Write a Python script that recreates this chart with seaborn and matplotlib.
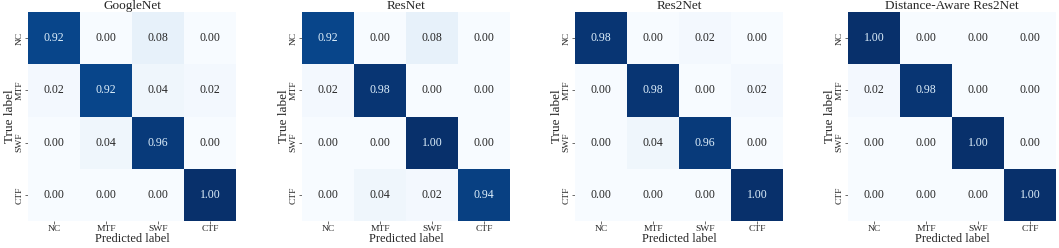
import numpy as np
import pandas as pd
import matplotlib
matplotlib.use("Agg")
import matplotlib.pyplot as plt
import seaborn as sns

classes = ["NC", "MTF", "SWF", "CTF"]
titles = ["GoogleNet", "ResNet", "Res2Net", "Distance-Aware Res2Net"]

googlenet = [[0.92, 0.00, 0.08, 0.00],
             [0.02, 0.92, 0.04, 0.02],
             [0.00, 0.04, 0.96, 0.00],
             [0.00, 0.00, 0.00, 1.00]]
resnet = [[0.92, 0.00, 0.08, 0.00],
          [0.02, 0.98, 0.00, 0.00],
          [0.00, 0.00, 1.00, 0.00],
          [0.00, 0.04, 0.02, 0.94]]
res2net = [[0.98, 0.00, 0.02, 0.00],
           [0.00, 0.98, 0.00, 0.02],
           [0.00, 0.04, 0.96, 0.00],
           [0.00, 0.00, 0.00, 1.00]]
da_res2net = [[1.00, 0.00, 0.00, 0.00],
              [0.02, 0.98, 0.00, 0.00],
              [0.00, 0.00, 1.00, 0.00],
              [0.00, 0.00, 0.00, 1.00]]
matrices = [googlenet, resnet, res2net, da_res2net]

sns.set_theme(style="white")
plt.rcParams['font.family'] = ['Liberation Serif', 'DejaVu Serif']

W, H = 1059, 248
fig = plt.figure(figsize=(W / 100, H / 100), dpi=100)
lefts = [28, 302, 575, 848]
aw, ah = 208, 209
bottom = 27

for left, title, m in zip(lefts, titles, matrices):
    ax = fig.add_axes([left / W, bottom / H, aw / W, ah / H])
    df = pd.DataFrame(m, index=classes, columns=classes)
    sns.heatmap(df, ax=ax, cmap="Blues", vmin=0, vmax=1, cbar=False,
                annot=True, fmt=".2f",
                annot_kws={"fontsize": 8.5, "family": "Liberation Serif"})
    for t, v in zip(ax.texts, np.array(m).ravel()):
        t.set_color("#dff0fc" if v > 0.5 else "#262626")
    ax.set_title(title, fontsize=9.5, pad=2)
    ax.set_xlabel("Predicted label", fontsize=9, labelpad=0)
    ax.set_ylabel("True label", fontsize=9.5, labelpad=0)
    ax.tick_params(axis="both", which="both", length=2, width=0.6,
                   labelsize=6.8, pad=1, color="#555555", bottom=True, left=True)
    ax.set_xticklabels(classes, rotation=0)
    ax.set_yticklabels(classes, rotation=90, va="center")

fig.savefig("out.png", dpi=100)
